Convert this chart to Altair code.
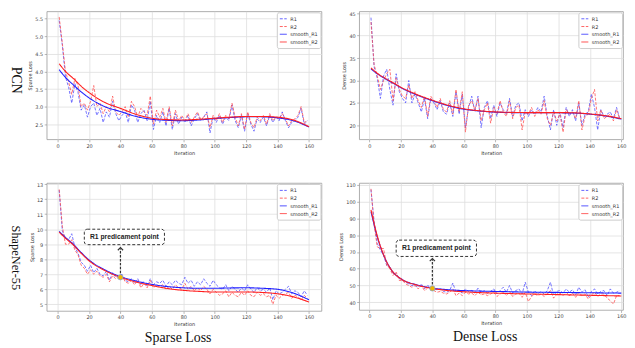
import altair as alt
import pandas as pd

# ---------------- data ----------------
iters = list(range(1, 160, 2))  # 80 recorded iterations
knots = [1, 5, 10, 15, 20, 30, 40, 50, 60, 70, 80, 90, 100, 110, 120, 130, 140, 150, 160]
SERIES = ["R1", "R2", "smooth_R1", "smooth_R2"]
XTICKS = [0, 20, 40, 60, 80, 100, 120, 140, 160]

pcn_sparse_r1 = [5.45, 4.75, 3.85, 3.55, 3.1, 3.65, 3.4, 2.9, 3.05, 2.7,
                 3.0, 3.1, 2.75, 2.95, 2.55, 2.85, 2.7, 3.15, 2.8, 2.6,
                 2.75, 2.85, 2.55, 3.05, 2.9, 2.55, 2.8, 2.9, 2.6, 3.15,
                 2.35, 2.75, 2.55, 2.85, 2.45, 2.95, 2.35, 2.8, 2.5, 2.7,
                 2.55, 2.75, 2.45, 2.65, 2.8, 2.6, 2.7, 2.85, 2.25, 2.7,
                 2.55, 2.75, 2.5, 2.7, 2.6, 3.05, 2.6, 2.4, 2.75, 2.3,
                 2.8, 2.5, 2.3, 2.65, 2.55, 2.7, 2.45, 2.75, 2.55, 2.7,
                 2.6, 2.85, 2.6, 2.4, 2.55, 2.6, 2.7, 2.95, 2.5, 2.6]
pcn_sparse_r2 = [5.55, 4.8, 4.0, 3.7, 3.35, 3.8, 3.6, 3.0, 3.1, 2.9,
                 3.15, 3.6, 3.0, 3.1, 2.8, 3.0, 2.85, 3.3, 2.85, 2.75,
                 2.85, 3.0, 2.7, 3.15, 3.0, 2.7, 2.95, 2.85, 2.75, 3.3,
                 2.5, 2.9, 2.7, 2.95, 2.55, 3.0, 2.45, 2.9, 2.6, 2.75,
                 2.6, 2.8, 2.55, 2.7, 2.85, 2.65, 2.7, 2.8, 2.4, 2.75,
                 2.6, 2.8, 2.55, 2.75, 2.65, 3.1, 2.7, 2.45, 2.8, 2.35,
                 2.85, 2.55, 2.4, 2.7, 2.6, 2.75, 2.5, 2.8, 2.6, 2.7,
                 2.65, 2.8, 2.65, 2.45, 2.6, 2.65, 2.75, 3.0, 2.55, 2.6]
pcn_sparse_s1 = [4.05, 3.83, 3.62, 3.42, 3.25, 3.0, 2.86, 2.72, 2.64, 2.61,
                 2.6, 2.62, 2.66, 2.69, 2.71, 2.71, 2.68, 2.6, 2.42]
pcn_sparse_s2 = [4.22, 4.0, 3.8, 3.58, 3.4, 3.12, 2.95, 2.78, 2.67, 2.63,
                 2.62, 2.64, 2.67, 2.7, 2.72, 2.72, 2.7, 2.62, 2.43]

pcn_dense_r1 = [44, 33, 30.5, 26, 31, 32.5, 28, 24.5, 31.5, 27.5,
                26, 25, 30, 25, 27, 25, 23, 26, 21.5, 26,
                25, 23.5, 25.5, 23, 22.5, 25, 22, 27.5, 22.5, 27,
                19.5, 24, 26.5, 23, 26.5, 19.5, 24, 25.5, 21.5, 24.5,
                22, 25, 23.5, 22.5, 26, 22, 24.5, 25, 21, 23.5,
                22, 23.5, 22.5, 24, 23, 26.5, 22, 19, 23.5, 20,
                23, 19.5, 24, 22, 23.5, 21, 25, 20, 22.5, 23,
                27, 24, 19, 23.5, 22, 22.5, 23, 21.5, 24, 21.5]
pcn_dense_r2 = [43, 33.5, 31, 28, 30, 31.5, 32.5, 25.5, 30.5, 28,
                26.5, 26, 29, 26, 27.5, 25.5, 24, 26.5, 22, 26.5,
                25.5, 24, 26, 23.5, 23, 25.5, 22.5, 28, 23, 27.5,
                18.5, 24.5, 25.5, 23.5, 26, 21, 23.5, 25, 20.5, 24,
                22.5, 25.5, 23, 22, 25.5, 21.5, 24, 24.5, 19, 23,
                22.5, 24, 22, 23.5, 22.5, 25.5, 21.5, 20, 23, 21,
                22.5, 18.5, 23.5, 22.5, 23, 21.5, 25.5, 19, 22, 22.5,
                26, 28, 21, 23.5, 21.5, 22, 22.5, 21, 23.5, 21.5]
pcn_dense_s1 = [32.6, 31.5, 30.4, 29.4, 28.4, 26.8, 25.5, 24.4, 23.6, 23.2,
                22.95, 22.85, 22.8, 22.8, 22.8, 22.75, 22.5, 22.1, 21.4]
pcn_dense_s2 = [32.8, 31.6, 30.5, 29.5, 28.5, 26.9, 25.6, 24.5, 23.7, 23.25,
                23.0, 22.9, 22.85, 22.85, 22.85, 22.8, 22.55, 22.15, 21.5]

sn_sparse_r1 = [12.6, 9.9, 9.4, 9.3, 9.7, 8.8, 8.4, 7.8, 7.6, 7.2,
                7.6, 7.1, 7.4, 7.0, 6.9, 7.2, 6.6, 7.1, 6.8, 6.9,
                7.0, 6.6, 6.5, 6.7, 6.4, 6.7, 6.3, 6.5, 6.2, 6.7,
                6.3, 6.5, 6.4, 6.6, 6.2, 6.5, 6.3, 6.6, 6.4, 6.3,
                6.8, 6.4, 6.6, 6.2, 6.5, 6.3, 6.7, 6.4, 6.2, 6.6,
                6.3, 6.1, 6.0, 6.3, 5.9, 6.2, 6.0, 5.8, 6.1, 5.9,
                6.3, 6.0, 5.8, 6.1, 5.9, 6.0, 5.8, 6.1, 5.3, 5.9,
                5.7, 5.8, 6.0, 6.2, 5.7, 5.9, 5.8, 5.5, 5.9, 5.6]
sn_sparse_r2 = [12.65, 10.2, 9.0, 9.0, 9.3, 8.6, 8.3, 7.6, 7.4, 7.0,
                7.3, 7.0, 7.2, 6.9, 6.8, 7.0, 6.5, 6.9, 6.7, 6.8,
                6.9, 6.5, 6.4, 6.6, 6.3, 6.6, 6.1, 6.4, 6.1, 6.6,
                6.1, 6.3, 6.2, 6.3, 6.0, 6.2, 6.0, 6.3, 6.1, 6.0,
                6.4, 6.0, 6.2, 5.9, 6.1, 5.9, 6.2, 6.0, 5.7, 6.0,
                5.8, 5.6, 5.7, 5.9, 5.5, 5.8, 5.6, 5.5, 5.8, 5.6,
                5.9, 5.6, 5.5, 5.8, 5.6, 5.7, 5.5, 5.6, 5.0, 5.6,
                5.4, 5.6, 5.7, 5.8, 5.4, 5.6, 5.5, 5.3, 5.6, 5.4]
sn_sparse_s1 = [9.85, 9.45, 9.0, 8.45, 7.95, 7.3, 6.85, 6.55, 6.33, 6.18,
                6.1, 6.07, 6.07, 6.09, 6.1, 6.07, 6.0, 5.75, 5.3]
sn_sparse_s2 = [9.8, 9.4, 8.95, 8.4, 7.9, 7.25, 6.8, 6.48, 6.25, 6.05,
                5.93, 5.86, 5.82, 5.82, 5.82, 5.79, 5.7, 5.5, 5.15]

sn_dense_r1 = [107, 88, 75, 71, 68, 62, 61, 57, 57, 54,
               54, 52, 51, 50, 50, 49, 51, 48, 50, 49,
               48, 47.5, 48, 46.5, 46, 47, 51.5, 46, 47, 45.5,
               48, 46.5, 47, 45.5, 48.5, 46, 47, 45.5, 46.5, 48,
               45, 47, 49, 46, 50, 45.5, 47, 48, 45, 52,
               46, 44, 47, 45, 46.5, 45, 47, 52, 44, 46.5,
               47, 45.5, 48, 46, 47.5, 44.5, 49, 46, 47.5, 43,
               46.5, 48, 45, 46.5, 47, 44, 48, 45.5, 46, 47]
sn_dense_r2 = [107.5, 86, 73, 72, 72, 62, 60, 56, 58, 53,
               53, 51, 50, 49, 50, 48, 50, 47, 48.5, 48,
               47, 46, 46.5, 45.5, 45, 46, 48, 44, 45.5, 44,
               46, 45, 45.5, 44, 46, 44.5, 45, 44, 45, 46,
               43.5, 45, 46, 44, 46.5, 43.5, 45, 45.5, 43, 46,
               40.5, 43.5, 45, 44, 45, 43.5, 45, 47, 42.5, 45,
               45.5, 44, 46, 44, 45.5, 43, 46, 44, 45, 42,
               44.5, 46, 43.5, 45, 45, 42.5, 41, 39, 44, 44]
sn_dense_s1 = [94, 79, 66, 58, 54, 50.5, 48.5, 47.5, 47, 46.7,
               46.5, 46.3, 46.1, 46, 45.9, 45.8, 45.7, 45.6, 45.5]
sn_dense_s2 = [95, 79.5, 66, 58, 54, 50.3, 48.3, 47, 46.3, 45.8,
               45.5, 45.2, 45, 44.8, 44.6, 44.4, 44.2, 44, 43.8]

# annotation (data coordinates): box x-range, box y-range, point, arrow tip
ann_sparse = {"x": [17, 68], "y": [8.97, 10.0], "pt": [40, 6.8], "tip": 8.72}
ann_dense = {"x": [17, 68], "y": [67.3, 77.0], "pt": [40, 48.3], "tip": 65.6}

COLORS = ["#4b4bff", "#ff4b4b", "#1f1fff", "#ff1f1f"]
DASHES = [[3, 1.5], [3, 1.5], [1, 0], [1, 0]]


def panel(r1, r2, s1, s2, xdom, ydom, yvals, yfmt, ytitle, w, h,
          row_label=None, row_size=14, row_dy=5, col_label=None, ann=None):
    noisy = pd.DataFrame({
        "x": iters + iters,
        "y": r1 + r2,
        "series": ["R1"] * len(iters) + ["R2"] * len(iters),
    })
    smooth = pd.DataFrame({
        "x": knots + knots,
        "y": s1 + s2,
        "series": ["smooth_R1"] * len(knots) + ["smooth_R2"] * len(knots),
    })

    def X(field="x"):
        return alt.X(f"{field}:Q", title="Iteration",
                     scale=alt.Scale(domain=xdom, nice=False, zero=False),
                     axis=alt.Axis(values=XTICKS))

    def Y(field="y"):
        return alt.Y(f"{field}:Q", title=ytitle,
                     scale=alt.Scale(domain=ydom, nice=False, zero=False),
                     axis=alt.Axis(values=yvals, format=yfmt))

    color = alt.Color("series:N", scale=alt.Scale(domain=SERIES, range=COLORS),
                      legend=alt.Legend(title=None))
    dash = alt.StrokeDash("series:N", scale=alt.Scale(domain=SERIES, range=DASHES),
                          legend=alt.Legend(title=None))
    layers = [
        alt.Chart(noisy).mark_line(strokeWidth=0.9, opacity=0.85).encode(
            x=X(), y=Y(), color=color, strokeDash=dash),
        alt.Chart(smooth).mark_line(strokeWidth=1.1, interpolate="monotone").encode(
            x=X(), y=Y(), color=color, strokeDash=dash),
    ]
    if ann is not None:
        box = pd.DataFrame({"x": [ann["x"][0]], "x2": [ann["x"][1]],
                            "y": [ann["y"][0]], "y2": [ann["y"][1]]})
        layers.append(alt.Chart(box).mark_rect(
            fill="white", stroke="#333333", strokeWidth=1, strokeDash=[3, 2],
            cornerRadius=3).encode(x=X(), x2="x2:Q", y=Y(), y2="y2:Q"))
        tb = pd.DataFrame({"x": [(ann["x"][0] + ann["x"][1]) / 2],
                           "y": [(ann["y"][0] + ann["y"][1]) / 2],
                           "t": ["R1 predicament point"]})
        layers.append(alt.Chart(tb).mark_text(
            font="Liberation Sans", fontWeight="bold", fontSize=6.8,
            color="#222222", baseline="middle").encode(
            x=X(), y=Y(), text="t:N"))
        arr = pd.DataFrame({"x": [ann["pt"][0]], "y": [ann["pt"][1]],
                            "y2": [ann["tip"]]})
        layers.append(alt.Chart(arr).mark_rule(
            color="#333333", strokeWidth=1.2, strokeDash=[2.5, 1.5]).encode(
            x=X(), y=Y(), y2="y2:Q"))
        layers.append(alt.Chart(arr).mark_point(
            shape="M -1 0.7 L 0 -0.3 L 1 0.7", filled=False, size=28,
            color="#333333", strokeWidth=1.2, opacity=1).encode(
            x=X(), y=Y("y2")))
        layers.append(alt.Chart(arr).mark_point(
            filled=True, size=28, fill="#f0b400", stroke="#7fa6e0",
            strokeWidth=0.8, opacity=1).encode(x=X(), y=Y()))
    if row_label is not None:
        rl = pd.DataFrame({"t": [row_label]})
        layers.append(alt.Chart(rl).mark_text(
            font="Liberation Serif", fontSize=row_size, angle=90, color="#111111",
            align="center", baseline="middle").encode(
            x=alt.value(-31), y=alt.value(h / 2 + row_dy), text="t:N"))
    if col_label is not None:
        cl = pd.DataFrame({"t": [col_label]})
        layers.append(alt.Chart(cl).mark_text(
            font="Liberation Serif", fontSize=14, color="#111111",
            align="center", baseline="middle").encode(
            x=alt.value(w / 2 - 6), y=alt.value(h + 27), text="t:N"))
    return alt.layer(*layers).properties(width=w, height=h)


LX = [-6.95, 167.95]
RX = [-6.5, 161.1]

tl = panel(pcn_sparse_r1, pcn_sparse_r2, pcn_sparse_s1, pcn_sparse_s2,
           LX, [2.07, 5.71], [2.5, 3.0, 3.5, 4.0, 4.5, 5.0, 5.5], ".1f",
           "Sparse Loss", 277, 129, row_label="PCN", row_size=14, row_dy=5)
tr = panel(pcn_dense_r1, pcn_dense_r2, pcn_dense_s1, pcn_dense_s2,
           RX, [16.9, 45.4], [20, 25, 30, 35, 40, 45], "d",
           "Dense Loss", 266, 129)
bl = panel(sn_sparse_r1, sn_sparse_r2, sn_sparse_s1, sn_sparse_s2,
           LX, [4.56, 13.08], list(range(5, 14)), "d",
           "Sparse Loss", 277, 129, row_label="ShapeNet-55", row_size=12.5,
           row_dy=11, col_label="Sparse Loss", ann=ann_sparse)
br = panel(sn_dense_r1, sn_dense_r2, sn_dense_s1, sn_dense_s2,
           RX, [35.5, 111], list(range(40, 111, 10)), "d",
           "Dense Loss", 266, 128, col_label="Dense Loss", ann=ann_dense)

chart = alt.concat(tl, tr, bl, br, columns=2, spacing={"row": 44, "column": 38},
                   bounds="flush").resolve_scale(
    x="independent", y="independent", color="independent", strokeDash="independent"
).resolve_legend(color="independent", strokeDash="independent").properties(
    padding={"left": 0, "top": 1, "right": 0, "bottom": 0}, background="white"
).configure_axis(
    labelFontSize=5, labelColor="#444444", labelFont="DejaVu Sans",
    titleFontSize=5, titleFont="DejaVu Sans", titleFontWeight="normal",
    titleColor="#333333", titlePadding=2, labelPadding=1.5, labelOverlap=False,
    tickColor="#888888", tickSize=2.5, tickWidth=0.6, domain=False,
    gridColor="#dedede", gridWidth=0.8
).configure_view(
    stroke="#9a9a9a", strokeWidth=0.8
).configure_legend(
    orient="top-right", offset=1, padding=2.5, labelFontSize=5,
    labelFont="DejaVu Sans", labelColor="#333333", symbolType="stroke",
    symbolSize=49, symbolStrokeWidth=1, rowPadding=0.8, labelOffset=3,
    fillColor="white", strokeColor="#cccccc", cornerRadius=2
)

chart.save("out.html", embed_options={"renderer": "svg", "actions": False})
